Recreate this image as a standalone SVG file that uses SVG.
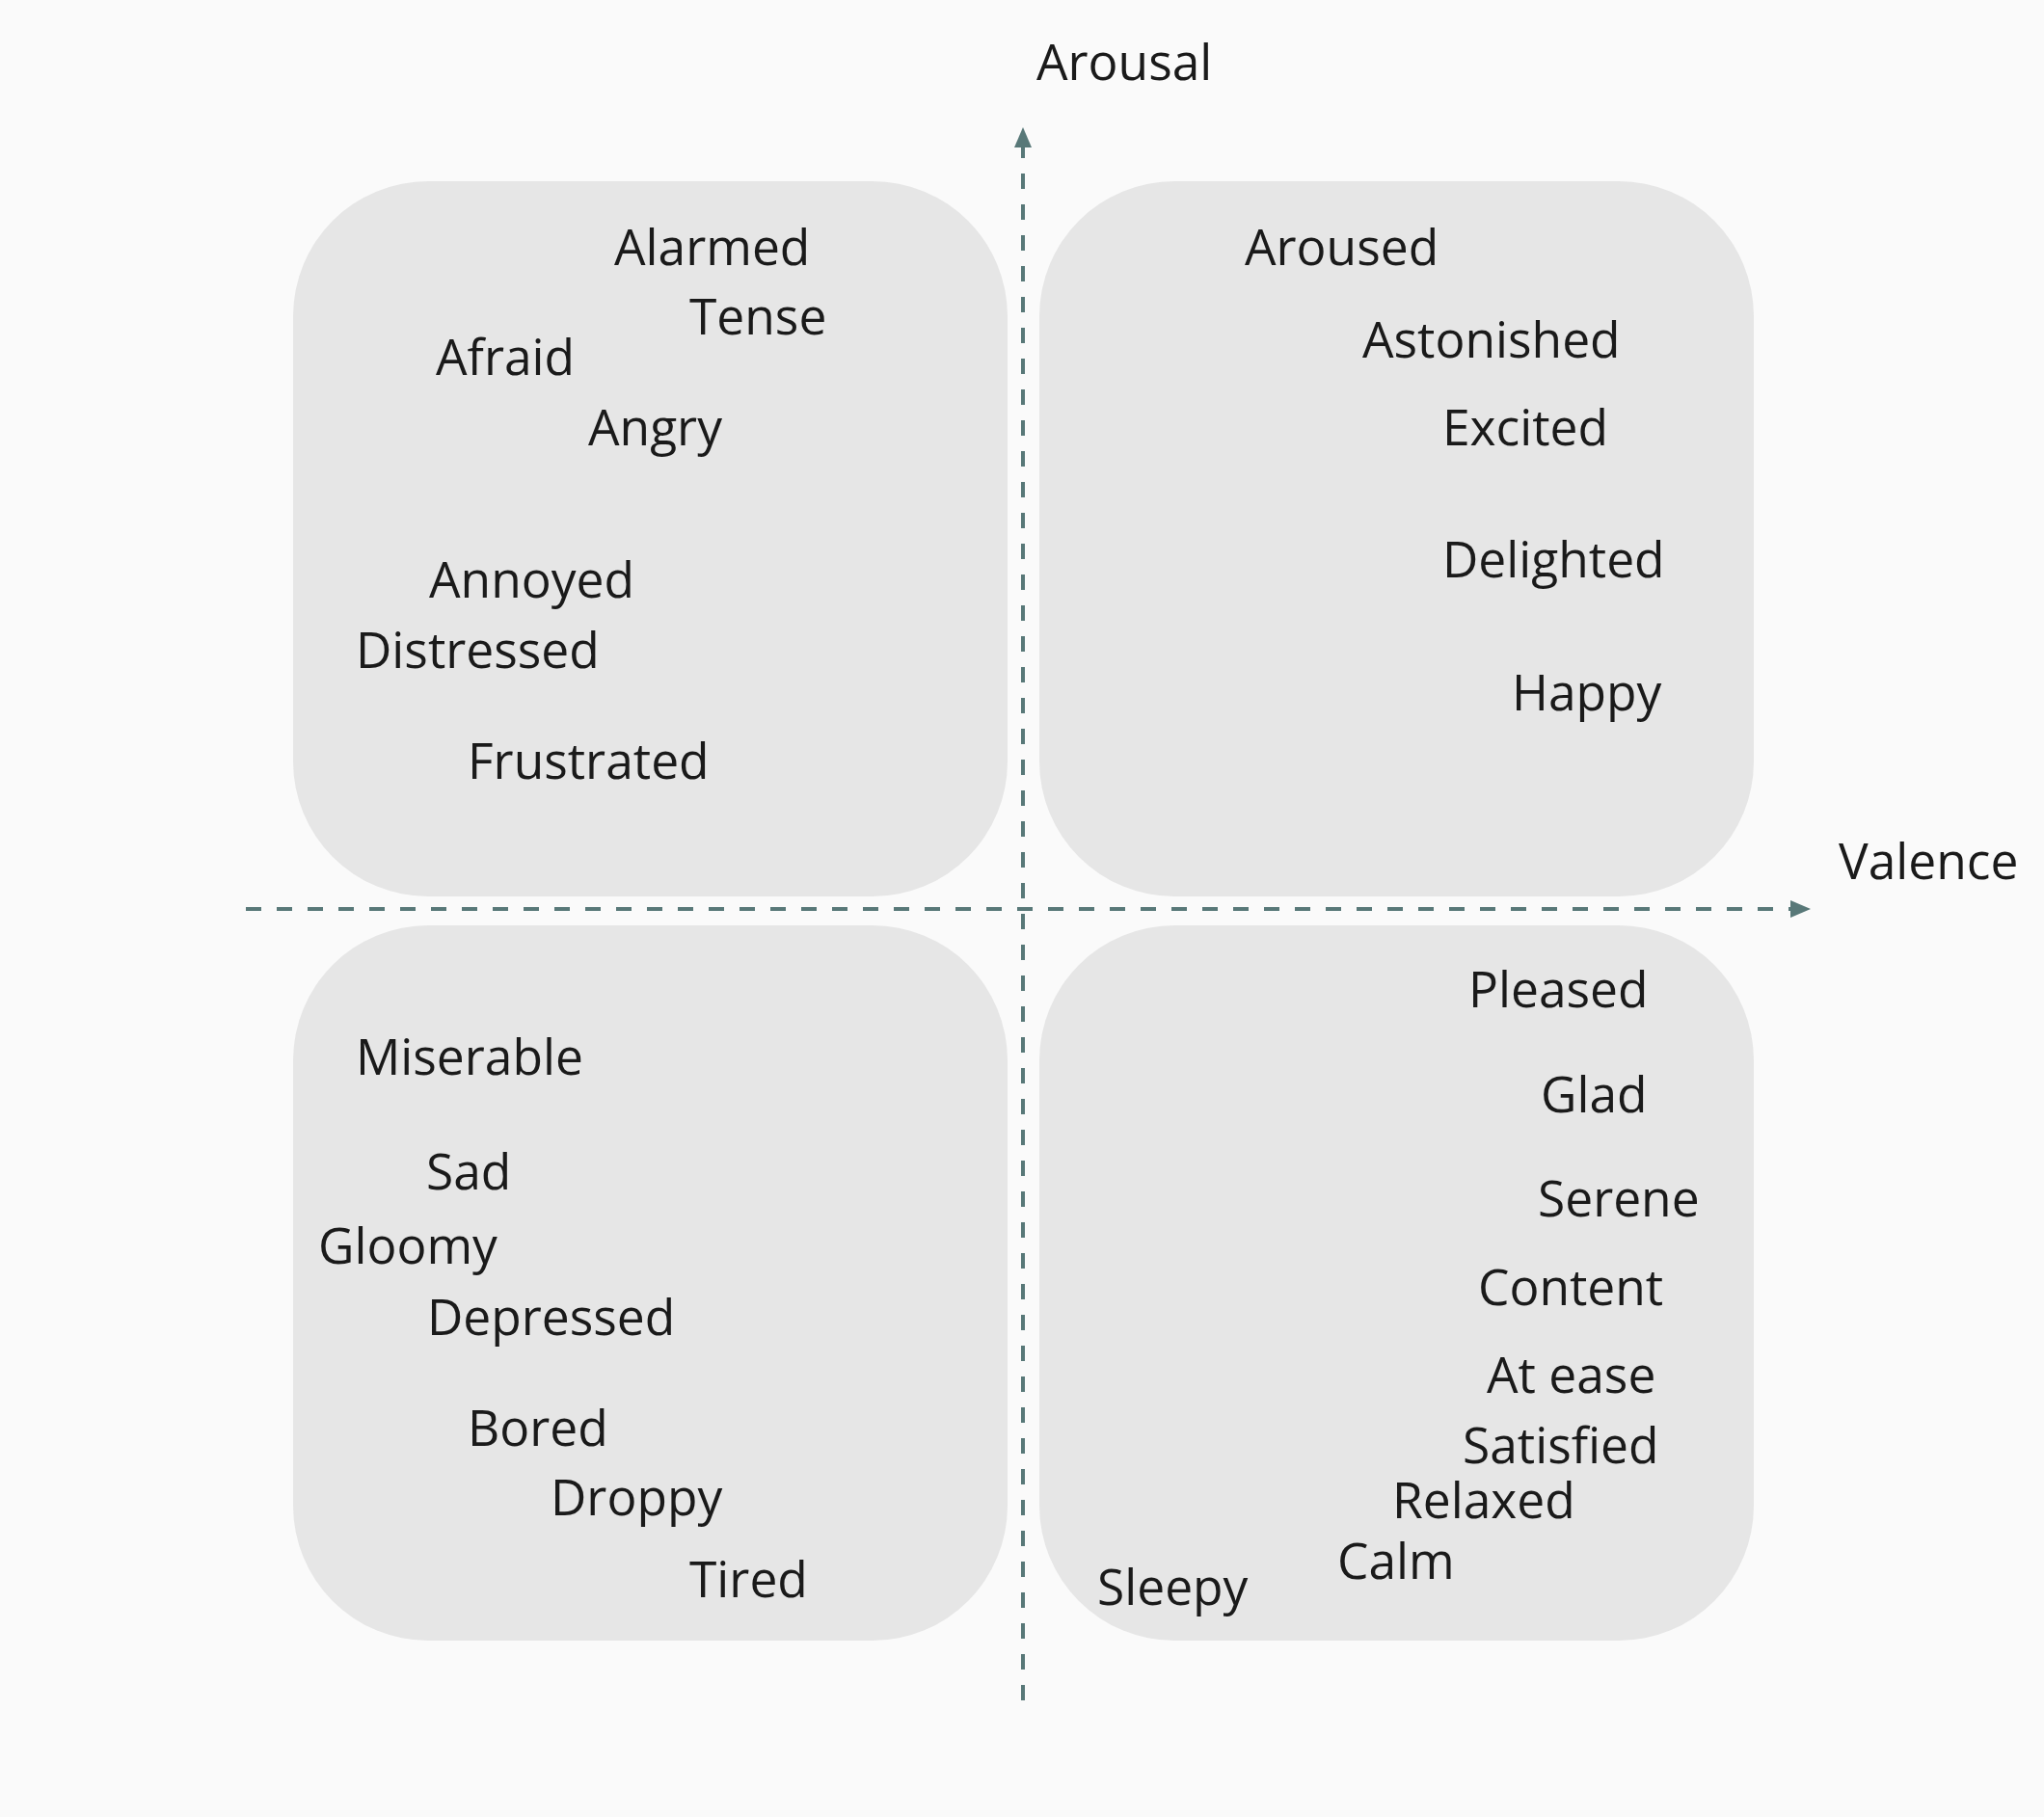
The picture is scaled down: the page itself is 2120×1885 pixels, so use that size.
<svg xmlns="http://www.w3.org/2000/svg" width="2120" height="1885" viewBox="0 0 2120 1885">
<style>
.box{fill:#e6e6e6}
.lbl{font-family:"Open Sans","Noto Sans","Liberation Sans",sans-serif;font-size:51.5px;fill:#1a1a1a}
.axis{stroke:#587878;stroke-width:4;stroke-dasharray:16 16;fill:none}
</style>
<defs>
<marker id="ah" viewBox="0 0 21 18" refX="21" refY="9" markerWidth="21" markerHeight="18" markerUnits="userSpaceOnUse" orient="auto">
<path d="M0,0 L21,9 L0,18 Z" fill="#587878"/>
</marker>
</defs>
<rect width="2120" height="1885" fill="#fafafa"/>
<g id="q-tl">
<rect class="box" x="304" y="188" width="741" height="742" rx="140" ry="140"/>
<text class="lbl" x="637" y="275">Alarmed</text>
<text class="lbl" x="715" y="347">Tense</text>
<text class="lbl" x="452" y="389">Afraid</text>
<text class="lbl" x="610" y="462">Angry</text>
<text class="lbl" x="445" y="620">Annoyed</text>
<text class="lbl" x="369" y="693">Distressed</text>
<text class="lbl" x="485" y="808">Frustrated</text>
</g>
<g id="q-tr">
<rect class="box" x="1078" y="188" width="741" height="742" rx="140" ry="140"/>
<text class="lbl" x="1291" y="275">Aroused</text>
<text class="lbl" x="1413" y="371">Astonished</text>
<text class="lbl" x="1496" y="462">Excited</text>
<text class="lbl" x="1496" y="599">Delighted</text>
<text class="lbl" x="1568" y="737">Happy</text>
</g>
<g id="q-bl">
<rect class="box" x="304" y="960" width="741" height="742" rx="140" ry="140"/>
<text class="lbl" x="369" y="1115">Miserable</text>
<text class="lbl" x="442" y="1234">Sad</text>
<text class="lbl" x="330" y="1311">Gloomy</text>
<text class="lbl" x="443" y="1385">Depressed</text>
<text class="lbl" x="485" y="1500">Bored</text>
<text class="lbl" x="571" y="1572">Droppy</text>
<text class="lbl" x="715" y="1657">Tired</text>
</g>
<g id="q-br">
<rect class="box" x="1078" y="960" width="741" height="742" rx="140" ry="140"/>
<text class="lbl" x="1523" y="1045">Pleased</text>
<text class="lbl" x="1598" y="1154">Glad</text>
<text class="lbl" x="1595" y="1262">Serene</text>
<text class="lbl" x="1533" y="1354">Content</text>
<text class="lbl" x="1542" y="1445">At ease</text>
<text class="lbl" x="1517" y="1518">Satisfied</text>
<text class="lbl" x="1444" y="1575">Relaxed</text>
<text class="lbl" x="1387" y="1638">Calm</text>
<text class="lbl" x="1138" y="1665">Sleepy</text>
</g>
<g id="connectors">
<path class="axis" d="M1061,1764 L1061,132" marker-end="url(#ah)"/>
<path class="axis" d="M255,943 L1878,943" marker-end="url(#ah)"/>
</g>
<g id="axis-labels">
<text class="lbl" x="1075" y="83">Arousal</text>
<text class="lbl" x="1907" y="912">Valence</text>
</g>
</svg>
